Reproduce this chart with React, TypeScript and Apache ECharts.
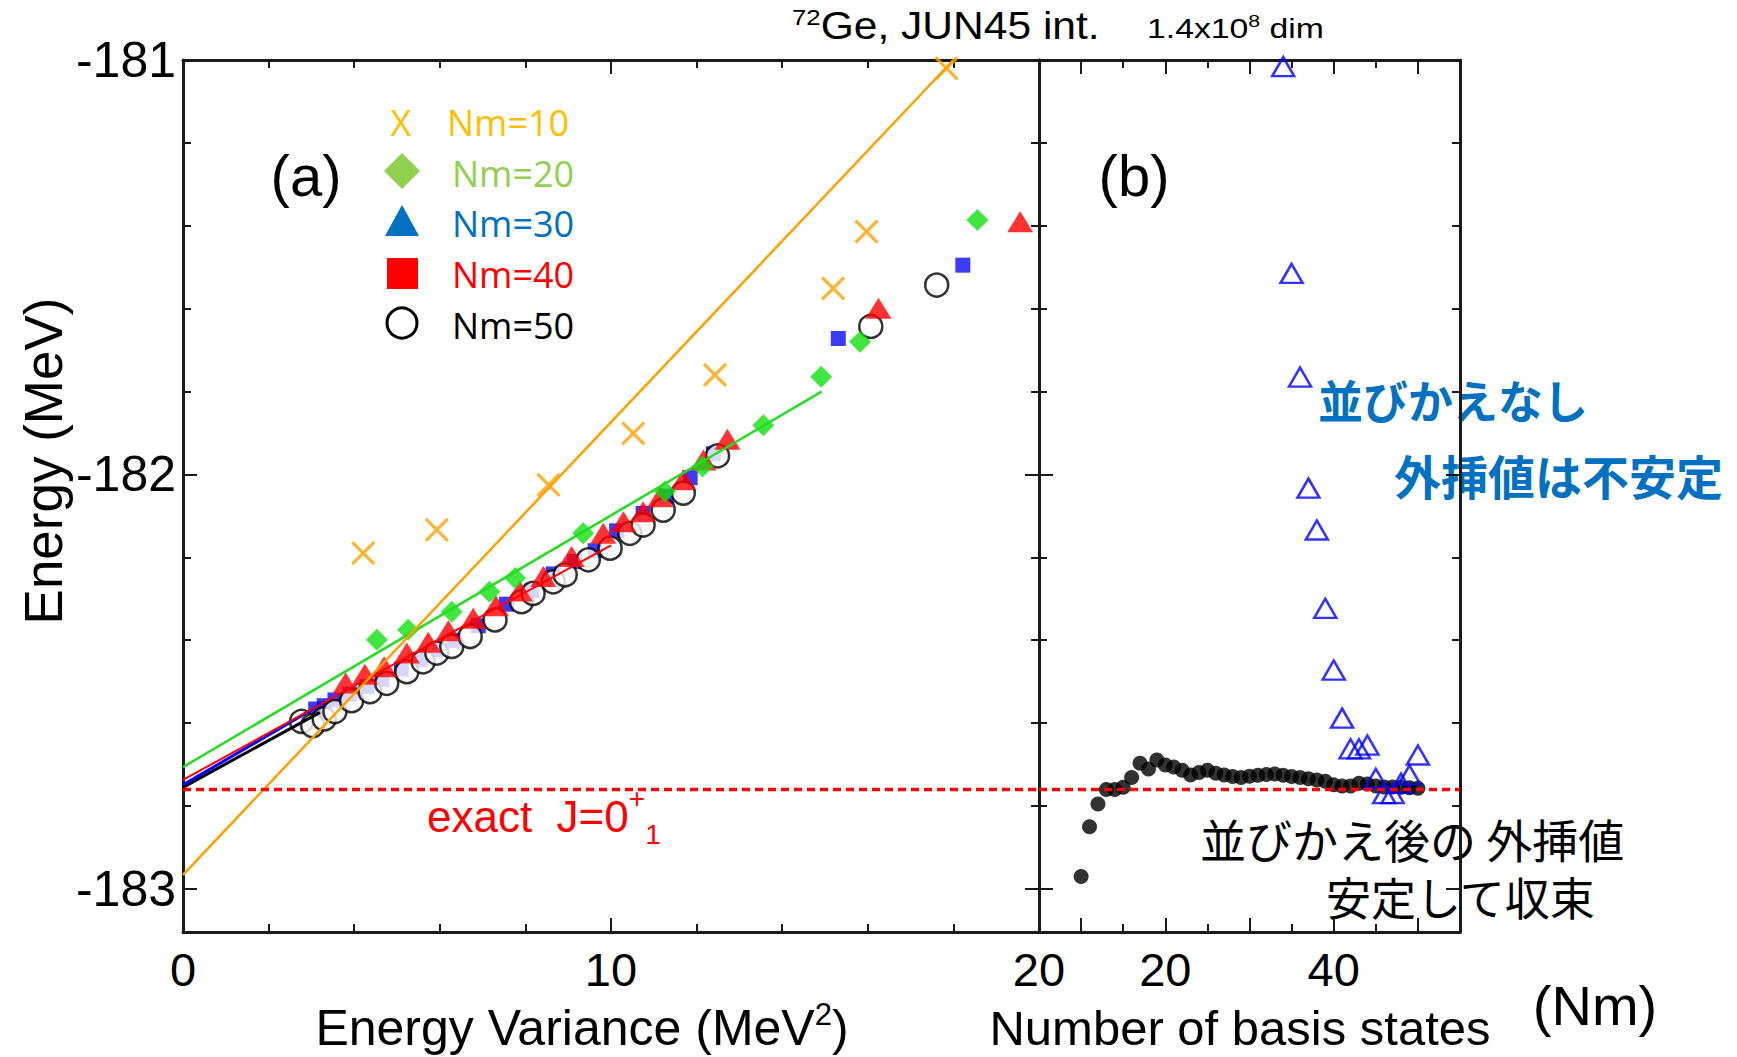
import React, { useEffect, useRef } from "react";
import * as echarts from "echarts";

// ---------- Panel (a): Energy variance (MeV^2) vs Energy (MeV) ----------
const nm10Pts: number[][] = [
  [4.21, -182.19], [5.93, -182.134], [8.54, -182.025], [10.52, -181.901],
  [12.43, -181.76], [15.19, -181.551], [15.97, -181.414], [17.84, -181.02],
];
const nm20Pts: number[][] = [
  [4.53, -182.399], [5.26, -182.375], [6.28, -182.331], [7.16, -182.283],
  [7.76, -182.25], [9.35, -182.142], [11.26, -182.041], [12.14, -181.981],
  [13.56, -181.881], [14.91, -181.764], [15.82, -181.68], [18.56, -181.386],
];
const nm30Pts: number[][] = [
  [3.1, -182.566], [3.3, -182.558], [3.55, -182.544], [3.9, -182.53], [4.3, -182.512],
  [4.65, -182.495], [5.1, -182.47], [5.55, -182.447], [6.0, -182.423], [6.35, -182.4],
  [6.9, -182.365], [7.56, -182.313], [8.15, -182.281], [8.65, -182.24], [9.15, -182.21],
  [9.63, -182.184], [10.13, -182.136], [10.75, -182.094], [11.3, -182.052], [11.85, -182.008],
  [12.39, -181.95], [15.31, -181.672], [18.22, -181.495],
];
const nm40Pts: number[][] = [
  [3.8, -182.503], [4.25, -182.482], [4.7, -182.464], [5.23, -182.431], [5.73, -182.405],
  [6.2, -182.377], [6.78, -182.347], [7.31, -182.317], [7.87, -182.281], [8.42, -182.246],
  [9.08, -182.198], [9.82, -182.142], [10.29, -182.114], [10.75, -182.09], [11.15, -182.054],
  [11.69, -182.013], [12.16, -181.965], [12.72, -181.915], [16.25, -181.599], [19.56, -181.39],
];
const nm50Pts: number[][] = [
  [2.77, -182.596], [3.03, -182.606], [3.3, -182.59], [3.55, -182.572], [3.94, -182.546],
  [4.37, -182.524], [4.76, -182.504], [5.23, -182.476], [5.61, -182.452], [5.93, -182.431],
  [6.28, -182.415], [6.71, -182.391], [7.29, -182.351], [7.91, -182.307], [8.18, -182.287],
  [8.65, -182.259], [8.93, -182.242], [9.47, -182.206], [9.98, -182.178], [10.44, -182.142],
  [10.75, -182.122], [11.22, -182.086], [11.69, -182.045], [12.49, -181.955], [16.07, -181.643],
  [17.61, -181.543],
];
// linear extrapolation lines
const fit10: number[][] = [[0, -182.966], [18.0, -181.0]];
const fit20: number[][] = [[0, -182.706], [14.92, -181.8]];
const fit30: number[][] = [[0, -182.749], [3.3, -182.55]];
const fit40: number[][] = [[0, -182.737], [10.0, -182.171]];
const fit50: number[][] = [[0, -182.755], [3.2, -182.574]];
const exactE = -182.76;

// ---------- Panel (b): Number of basis states (Nm) vs extrapolated energy ----------
const sortedNm: number[] = [10, 11, 12, 13, 14, 15, 16, 17, 18, 19, 20, 21, 22, 23, 24, 25, 26, 27, 28, 29, 30,
  31, 32, 33, 34, 35, 36, 37, 38, 39, 40, 41, 42, 43, 44, 45, 46, 47, 48, 49, 50];
const sortedE: number[] = [-182.97, -182.85, -182.795, -182.76, -182.76, -182.755, -182.731, -182.697, -182.711,
  -182.689, -182.701, -182.706, -182.714, -182.725, -182.719, -182.714, -182.721, -182.725, -182.729, -182.731,
  -182.728, -182.726, -182.724, -182.723, -182.726, -182.729, -182.731, -182.734, -182.737, -182.74, -182.749,
  -182.752, -182.752, -182.745, -182.747, -182.752, -182.754, -182.754, -182.755, -182.756, -182.757];
const unsortedNm: number[] = [34, 35, 36, 37, 38, 39, 40, 41, 42, 43, 44, 45, 46, 47, 48, 49, 50];
const unsortedE: number[] = [-181.016, -181.515, -181.765, -182.033, -182.134, -182.323, -182.472, -182.588,
  -182.662, -182.662, -182.653, -182.733, -182.77, -182.77, -182.745, -182.725, -182.677];

// ---------- axes ----------
const yMin = -183.104;
const yMax = -181;
const yLabels = [-181, -182, -183];
const yMinorTicks = [-182.8, -182.6, -182.4, -182.2, -181.8, -181.6, -181.4, -181.2];
const yMajorTicks = [-183, -182];
const xaLabels = [0, 10, 20];
const xaMinorTicks = [2, 4, 6, 8, 12, 14, 16, 18];
const xaMajorTicks = [10];
const xbLabels = [20, 40];
const xbMinorTicks = [15, 25, 35, 45];
const xbMajorTicks = [10, 20, 30, 40, 50];

const AX = "#1a1a1a";
const FONT = "Liberation Sans";

function mkAxis(grid: number, pos: string, min: number, max: number, ticks: number[], len: number,
  showLine: boolean, labels?: number[], margin = 14, labelSize = 46) {
  return {
    type: "value", gridIndex: grid, position: pos, min, max,
    axisLine: { show: showLine, onZero: false, lineStyle: { color: AX, width: 3 } },
    axisTick: { show: true, inside: true, length: len, customValues: ticks, lineStyle: { color: AX, width: 2 } },
    axisLabel: labels
      ? { show: true, customValues: labels, fontSize: labelSize, fontFamily: FONT, color: "#000", margin,
          showMinLabel: true, showMaxLabel: true, hideOverlap: false,
          formatter: (v: number) => String(Math.round(v)) }
      : { show: false },
    splitLine: { show: false },
    minorTick: { show: false },
  };
}

function txt(x: number, y: number, text: string, o: any = {}) {
  const fontSize = o.fontSize || 40;
  return {
    type: "text", x, y, rotation: o.rotation || 0, scaleX: o.scaleX || 1, silent: true,
    style: {
      text, fill: o.fill || "#000", fontSize, fontFamily: o.fontFamily || FONT,
      fontWeight: o.fontWeight || "normal",
      lineHeight: o.lineHeight,
      align: o.align || "left", textAlign: o.align || "left",
      verticalAlign: "middle", textVerticalAlign: "middle",
      rich: o.rich,
    },
  };
}

export default function App() {
  const ref = useRef<HTMLDivElement>(null);
  useEffect(() => {
    const chart = echarts.init(ref.current!, null, { renderer: "svg" });
    const sA = { xAxisIndex: 0, yAxisIndex: 0 };
    const sB = { xAxisIndex: 4, yAxisIndex: 4 };
    const lineBase = { type: "line", symbol: "none", silent: true, emphasis: { disabled: true } };
    const scatBase = { type: "scatter", silent: true, emphasis: { disabled: true } };
    const option: any = {
      animation: false,
      backgroundColor: "#fff",
      textStyle: { fontFamily: FONT },
      grid: [
        { left: 183, top: 60, width: 856, height: 872, containLabel: false, outerBoundsMode: "none" },
        { left: 1039, top: 60, width: 421, height: 872, containLabel: false, outerBoundsMode: "none" },
      ],
      xAxis: [
        mkAxis(0, "bottom", 0, 20, xaMinorTicks, 8, true, xaLabels, 14, 47),
        mkAxis(0, "bottom", 0, 20, xaMajorTicks, 14, false),
        mkAxis(0, "top", 0, 20, xaMinorTicks, 8, true),
        mkAxis(0, "top", 0, 20, xaMajorTicks, 14, false),
        mkAxis(1, "bottom", 5, 55, xbMajorTicks, 14, true, xbLabels, 14, 47),
        mkAxis(1, "bottom", 5, 55, xbMinorTicks, 8, false),
        mkAxis(1, "top", 5, 55, xbMajorTicks, 14, true),
        mkAxis(1, "top", 5, 55, xbMinorTicks, 8, false),
      ],
      yAxis: [
        mkAxis(0, "left", yMin, yMax, yMinorTicks, 8, true, yLabels, 7, 50),
        mkAxis(0, "left", yMin, yMax, yMajorTicks, 14, false),
        mkAxis(0, "right", yMin, yMax, yMinorTicks, 8, true),
        mkAxis(0, "right", yMin, yMax, yMajorTicks, 14, false),
        mkAxis(1, "left", yMin, yMax, yMinorTicks, 8, true),
        mkAxis(1, "left", yMin, yMax, yMajorTicks, 14, false),
        mkAxis(1, "right", yMin, yMax, yMinorTicks, 8, true),
        mkAxis(1, "right", yMin, yMax, yMajorTicks, 14, false),
      ],
      series: [
        { ...lineBase, ...sA, data: fit50, lineStyle: { color: "#000", width: 3 } },
        { ...lineBase, ...sA, data: fit30, lineStyle: { color: "#0000FF", width: 3 } },
        { ...lineBase, ...sA, data: fit40, lineStyle: { color: "#FF0000", width: 2 } },
        { ...scatBase, ...sA, name: "Nm=30", data: nm30Pts, symbol: "rect", symbolSize: 15,
          itemStyle: { color: "#0A0AF5" } },
        { ...scatBase, ...sA, name: "Nm=50", data: nm50Pts, symbol: "circle", symbolSize: 23,
          itemStyle: { color: "#fff", borderColor: "#000", borderWidth: 2.5 } },
        { ...scatBase, ...sA, name: "Nm=40", data: nm40Pts, symbol: "triangle", symbolSize: [26, 21],
          itemStyle: { color: "#FF0000" } },
        { ...lineBase, ...sA, data: fit20, lineStyle: { color: "#22DD22", width: 2.5 } },
        { ...scatBase, ...sA, name: "Nm=20", data: nm20Pts, symbol: "diamond", symbolSize: 22,
          itemStyle: { color: "#11E011" } },
        { ...lineBase, ...sA, data: fit10, lineStyle: { color: "#FFA000", width: 2.5 } },
        { ...scatBase, ...sA, name: "Nm=10", data: nm10Pts, symbol: "path://M0,0L10,10M10,0L0,10",
          symbolSize: 22, itemStyle: { color: "transparent", borderColor: "#FFA000", borderWidth: 3.2 } },
        { ...lineBase, ...sA, data: [[0, exactE], [20, exactE]],
          lineStyle: { color: "#FF0000", width: 3.5, type: [8, 5] } },
        // panel b
        { ...lineBase, ...sB, data: [[5, exactE], [55, exactE]],
          lineStyle: { color: "#FF0000", width: 3.5, type: [8, 5] } },
        { ...scatBase, ...sB, name: "sorted", data: sortedNm.map((n, i) => [n, sortedE[i]]),
          symbol: "circle", symbolSize: 15, itemStyle: { color: "#000" } },
        { ...scatBase, ...sB, name: "unsorted", data: unsortedNm.map((n, i) => [n, unsortedE[i]]),
          symbol: "triangle", symbolSize: [22, 19],
          itemStyle: { color: "rgba(0,0,0,0)", borderColor: "#0000FF", borderWidth: 2.5 } },
      ],
      graphic: [
        // titles
        txt(792, 26, "{s|72}{n|Ge, JUN45 int.}", {
          scaleX: 1.12,
          rich: { n: { fontSize: 38, fontFamily: FONT, fill: "#000", lineHeight: 42 },
                  s: { fontSize: 23, fontFamily: FONT, fill: "#000", verticalAlign: "top", lineHeight: 42 } },
        }),
        txt(1147, 28, "{n|1.4x10}{s|8}{n| dim}", {
          scaleX: 1.25,
          rich: { n: { fontSize: 27, fontFamily: FONT, fill: "#000", lineHeight: 30 },
                  s: { fontSize: 17, fontFamily: FONT, fill: "#000", verticalAlign: "top", lineHeight: 30 } },
        }),
        txt(43, 461, "Energy (MeV)", { fontSize: 53, align: "center", rotation: Math.PI / 2 }),
        txt(582, 1028, "{n|Energy Variance (MeV}{s|2}{n|)}", {
          align: "center",
          rich: { n: { fontSize: 50, fontFamily: FONT, fill: "#000", lineHeight: 58 },
                  s: { fontSize: 31, fontFamily: FONT, fill: "#000", verticalAlign: "top", lineHeight: 58 } },
        }),
        txt(1240, 1028, "Number of basis states", { fontSize: 49, align: "center" }),
        txt(1595, 1005, "(Nm)", { fontSize: 56, align: "center" }),
        txt(306, 175, "(a)", { fontSize: 58, align: "center" }),
        txt(1134, 175, "(b)", { fontSize: 58, align: "center" }),
        txt(427, 816, "{n|exact  J=0}{s|+}{b|1}", {
          rich: { n: { fontSize: 44, fontFamily: FONT, fill: "#FF0000", lineHeight: 64 },
                  s: { fontSize: 28, fontFamily: FONT, fill: "#FF0000", verticalAlign: "top", lineHeight: 64 },
                  b: { fontSize: 28, fontFamily: FONT, fill: "#FF0000", verticalAlign: "bottom", lineHeight: 64 } },
        }),
        // legend
        txt(401, 122, "X", { fontSize: 36, fontFamily: "Open Sans", fill: "#FFC000", align: "center" }),
        { type: "polygon", silent: true, shape: { points: [[402, 153], [420, 171], [402, 189], [384, 171]] },
          style: { fill: "#92D050" } },
        { type: "polygon", silent: true, shape: { points: [[402, 205], [419, 236], [385, 236]] },
          style: { fill: "#0070C0" } },
        { type: "rect", silent: true, shape: { x: 387, y: 258, width: 31, height: 31 }, style: { fill: "#FF0000" } },
        { type: "circle", silent: true, shape: { cx: 402, cy: 323, r: 15 },
          style: { fill: "none", stroke: "#000", lineWidth: 3 } },
        txt(447, 122, "Nm=10", { fontSize: 36, fontFamily: "Open Sans", fill: "#FFC000" }),
        txt(452, 173, "Nm=20", { fontSize: 36, fontFamily: "Open Sans", fill: "#92D050" }),
        txt(452, 223, "Nm=30", { fontSize: 36, fontFamily: "Open Sans", fill: "#0070C0" }),
        txt(452, 274, "Nm=40", { fontSize: 36, fontFamily: "Open Sans", fill: "#FF0000" }),
        txt(452, 325, "Nm=50", { fontSize: 36, fontFamily: "Open Sans", fill: "#000" }),
        // annotations
        txt(1318, 399, "並びかえなし", { fontSize: 45, lineHeight: 48, fontFamily: "Noto Sans CJK JP", fontWeight: "bold", fill: "#0070C0" }),
        txt(1394, 474, "外挿値は不安定", { fontSize: 47, lineHeight: 50, fontFamily: "Noto Sans CJK JP", fontWeight: "bold", fill: "#0070C0" }),
        txt(1200, 838, "並びかえ後の 外挿値", { fontSize: 46, lineHeight: 48, fontFamily: "Noto Sans CJK JP", fill: "#000" }),
        txt(1326, 896, "安定して収束", { fontSize: 45, lineHeight: 48, fontFamily: "Noto Sans CJK JP", fill: "#000" }),
      ],
    };
    chart.setOption(option);
    return () => chart.dispose();
  }, []);
  return (
    <div
      ref={ref}
      style={{ position: "absolute", left: 0, top: 0, width: 1737, height: 1057, background: "#fff" }}
    />
  );
}
